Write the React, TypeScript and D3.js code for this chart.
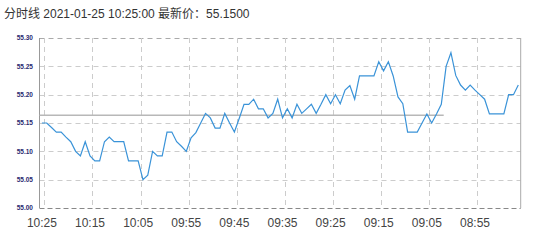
import React from "react";
import * as d3 from "d3";

const titleText = "分时线  2021-01-25 10:25:00  最新价：55.1500";

const prices: number[] = [
  55.150, 55.150, 55.142, 55.134, 55.134, 55.125, 55.117, 55.100, 55.092, 55.117,
  55.092, 55.083, 55.083, 55.117, 55.125, 55.117, 55.117, 55.117, 55.083, 55.083,
  55.083, 55.050, 55.058, 55.100, 55.092, 55.092, 55.134, 55.134, 55.117, 55.109,
  55.100, 55.124, 55.133, 55.150, 55.167, 55.159, 55.141, 55.141, 55.167, 55.150,
  55.134, 55.158, 55.183, 55.183, 55.192, 55.175, 55.175, 55.159, 55.167, 55.192,
  55.159, 55.175, 55.159, 55.183, 55.167, 55.175, 55.183, 55.167, 55.183, 55.200,
  55.184, 55.200, 55.184, 55.208, 55.216, 55.192, 55.233, 55.233, 55.233, 55.233,
  55.258, 55.242, 55.258, 55.233, 55.196, 55.184, 55.134, 55.134, 55.134, 55.150,
  55.166, 55.150, 55.166, 55.183, 55.250, 55.274, 55.234, 55.217, 55.208, 55.217,
  55.208, 55.200, 55.192, 55.166, 55.166, 55.166, 55.166, 55.200, 55.200, 55.217,
];

const xTickLabels = ["10:25", "10:15", "10:05", "09:55", "09:45", "09:35", "09:25", "09:15", "09:05", "08:55"];
const xTickStep = 10;
const yTicks = [55.0, 55.05, 55.1, 55.15, 55.2, 55.25, 55.3];
const avgPrice = 55.1636;
const avgEndIndex = 84;

const W = 538;
const H = 245;
const left = 39.5;
const right = 520.7;
const top = 38;
const bottom = 208;

export default function App() {
  const idx = prices.map((_, i) => i);
  const x = d3.scaleBand<number>().domain(idx).range([left, right]).paddingInner(0).paddingOuter(0);
  const bw = x.bandwidth();
  const cx = (i: number) => (x(i) as number) + bw / 2;
  const y = d3.scaleLinear().domain([55.0, 55.3]).range([bottom, top]);

  const line = d3
    .line<number>()
    .x((_, i) => cx(i))
    .y((d) => y(d));

  const latin = "'Liberation Sans', Arial, 'Noto Sans CJK SC', sans-serif";

  return (
    <svg
      width={W}
      height={H}
      style={{ position: "absolute", left: 0, top: 0, background: "#fff" }}
      fontFamily={latin}
    >
      <text x={4} y={17.5} fontSize={12} fill="#333">
        {titleText}
      </text>

      {/* horizontal grid */}
      {yTicks.map((t, k) =>
        k === 0 ? null : (
          <line
            key={"hy" + k}
            x1={left}
            x2={right}
            y1={Math.round(y(t)) + 0.5}
            y2={Math.round(y(t)) + 0.5}
            stroke={k === yTicks.length - 1 ? "#aaa" : "#ccc"}
            strokeDasharray="5,4"
          />
        )
      )}
      {/* vertical grid */}
      {xTickLabels.map((_, k) => {
        const gx = (x(k * xTickStep) as number) + bw;
        return (
          <line
            key={"vx" + k}
            x1={Math.round(gx) + 0.5}
            x2={Math.round(gx) + 0.5}
            y1={top}
            y2={bottom}
            stroke="#ccc"
            strokeDasharray="5,4"
          />
        );
      })}

      {/* borders */}
      <line x1={left} x2={left} y1={top} y2={bottom} stroke="#999" />
      <line x1={right} x2={right} y1={top} y2={bottom} stroke="#aaa" />
      <line x1={left} x2={right} y1={bottom + 0.5} y2={bottom + 0.5} stroke="#888" strokeDasharray="5,3" />

      {/* average line */}
      <line
        x1={left}
        x2={x(avgEndIndex) as number}
        y1={y(avgPrice)}
        y2={y(avgPrice)}
        stroke="#b8b8b8"
        strokeWidth={1.6}
      />

      {/* price line */}
      <path d={line(prices) || ""} fill="none" stroke="#3a93d8" strokeWidth={1.2} />

      {/* y labels */}
      {yTicks.map((t, k) => (
        <text
          key={"yl" + k}
          x={33}
          y={y(t) + 2.3}
          fontSize={6.5}
          textAnchor="end"
          fill="#2a2a70"
          fontWeight="bold"
        >
          {t.toFixed(2)}
        </text>
      ))}

      {/* x labels */}
      {xTickLabels.map((lab, k) => (
        <text key={"xl" + k} x={cx(k * xTickStep)} y={226.5} fontSize={12} textAnchor="middle" fill="#444">
          {lab}
        </text>
      ))}
    </svg>
  );
}
